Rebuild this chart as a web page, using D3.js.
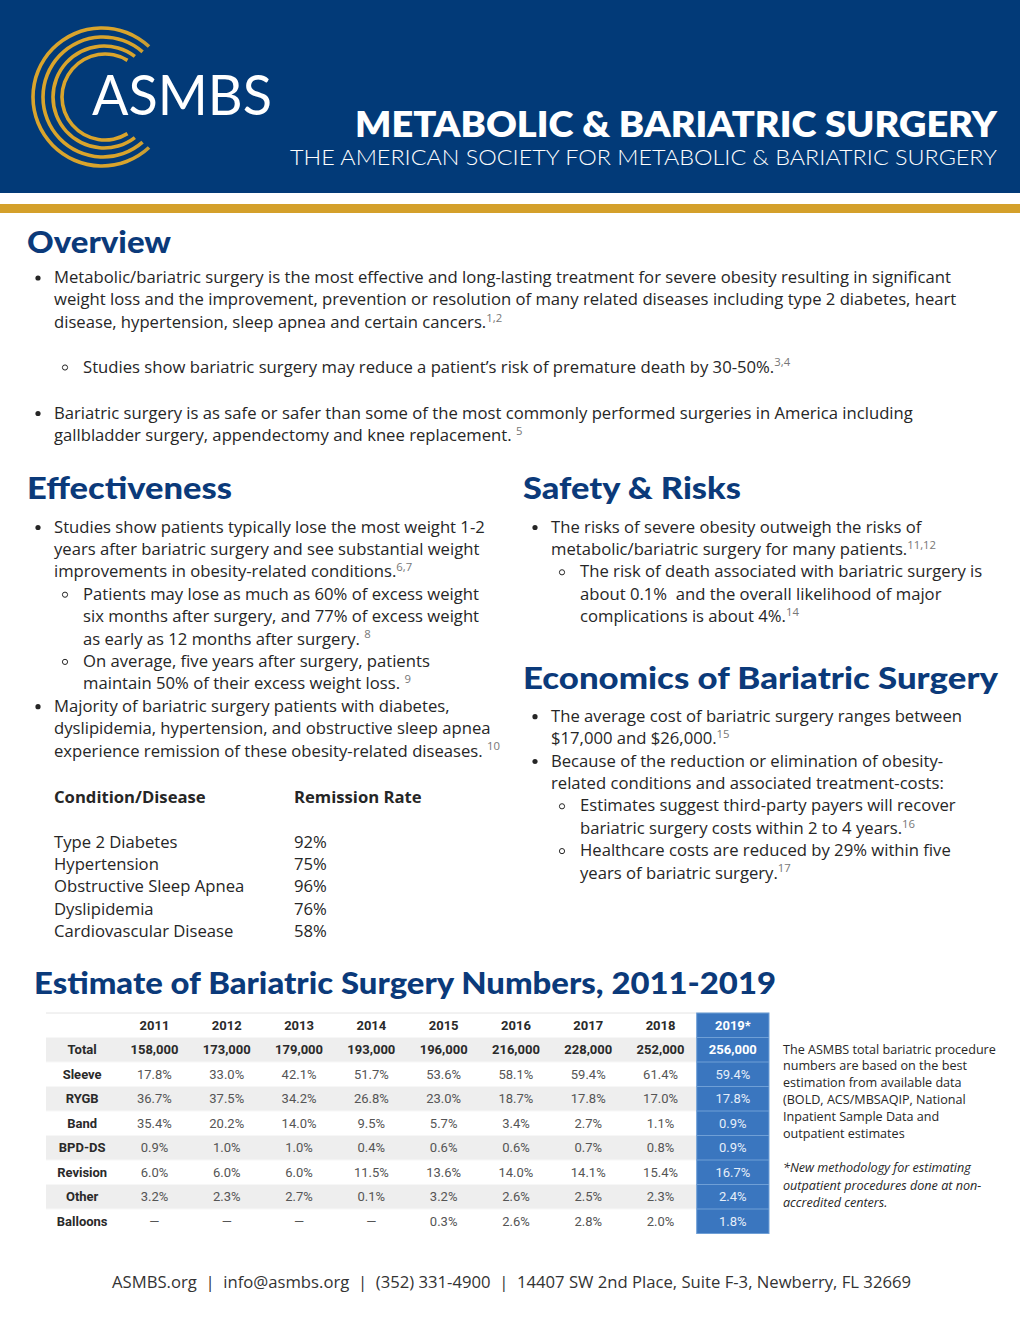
<!DOCTYPE html>
<html><head><meta charset="utf-8">
<script src="https://cdn.jsdelivr.net/npm/d3@7"></script>
<style>body{margin:0;background:#fff}svg{display:block}</style>
</head><body>
<svg id="c" width="1020" height="1319"></svg>
<script>
// ---------- DATA ----------
const years = ["2011","2012","2013","2014","2015","2016","2017","2018","2019*"];
const totals = [158000,173000,179000,193000,196000,216000,228000,252000,256000];
const procedures = ["Sleeve","RYGB","Band","BPD-DS","Revision","Other","Balloons"];
const sleeve   = [17.8,33.0,42.1,51.7,53.6,58.1,59.4,61.4,59.4];
const rygb     = [36.7,37.5,34.2,26.8,23.0,18.7,17.8,17.0,17.8];
const band     = [35.4,20.2,14.0,9.5,5.7,3.4,2.7,1.1,0.9];
const bpdds    = [0.9,1.0,1.0,0.4,0.6,0.6,0.7,0.8,0.9];
const revision = [6.0,6.0,6.0,11.5,13.6,14.0,14.1,15.4,16.7];
const other    = [3.2,2.3,2.7,0.1,3.2,2.6,2.5,2.3,2.4];
const balloons = [null,null,null,null,0.3,2.6,2.8,2.0,1.8];
const procValues = [sleeve,rygb,band,bpdds,revision,other,balloons];

const conditions = ["Type 2 Diabetes","Hypertension","Obstructive Sleep Apnea","Dyslipidemia","Cardiovascular Disease"];
const remission = [92,75,96,76,58];

const overviewText = [
 ["dot","Metabolic/bariatric surgery is the most effective and long-lasting treatment for severe obesity resulting in significant"],
 ["","weight loss and the improvement, prevention or resolution of many related diseases including type 2 diabetes, heart"],
 ["","disease, hypertension, sleep apnea and certain cancers.^1,2"],
 ["ring","Studies show bariatric surgery may reduce a patient’s risk of premature death by 30-50%.^3,4"],
 ["dot","Bariatric surgery is as safe or safer than some of the most commonly performed surgeries in America including"],
 ["","gallbladder surgery, appendectomy and knee replacement. ^5"]
];
const effectText = [
 ["dot","Studies show patients typically lose the most weight 1-2"],
 ["","years after bariatric surgery and see substantial weight"],
 ["","improvements in obesity-related conditions.^6,7"],
 ["ring","Patients may lose as much as 60% of excess weight"],
 ["r","six months after surgery, and 77% of excess weight"],
 ["r","as early as 12 months after surgery. ^8"],
 ["ring","On average, five years after surgery, patients"],
 ["r","maintain 50% of their excess weight loss. ^9"],
 ["dot","Majority of bariatric surgery patients with diabetes,"],
 ["","dyslipidemia, hypertension, and obstructive sleep apnea"],
 ["","experience remission of these obesity-related diseases. ^10"]
];
const safetyText = [
 ["dot","The risks of severe obesity outweigh the risks of"],
 ["","metabolic/bariatric surgery for many patients.^11,12"],
 ["ring","The risk of death associated with bariatric surgery is"],
 ["r","about 0.1%  and the overall likelihood of major"],
 ["r","complications is about 4%.^14"]
];
const econText = [
 ["dot","The average cost of bariatric surgery ranges between"],
 ["","$17,000 and $26,000.^15"],
 ["dot","Because of the reduction or elimination of obesity-"],
 ["","related conditions and associated treatment-costs:"],
 ["ring","Estimates suggest third-party payers will recover"],
 ["r","bariatric surgery costs within 2 to 4 years.^16"],
 ["ring","Healthcare costs are reduced by 29% within five"],
 ["r","years of bariatric surgery.^17"]
];
const noteText = ["The ASMBS total bariatric procedure","numbers are based on the best","estimation from available data","(BOLD, ACS/MBSAQIP, National","Inpatient Sample Data and","outpatient estimates"];
const noteItalic = ["*New methodology for estimating","outpatient procedures done at non-","accredited centers."];
const footerText = "ASMBS.org  |  info@asmbs.org  |  (352) 331-4900  |  14407 SW 2nd Place, Suite F-3, Newberry, FL 32669";

// ---------- DRAW ----------
const svg = d3.select("#c");
const NAVY = "#023a78", HEAD = "#0b3a7a", GOLD = "#d4a02a", TXT = "#262626";
const BODY = "'Open Sans', 'Noto Sans', sans-serif";
const HFONT = "Lato, 'Noto Sans', sans-serif";

// header
svg.append("rect").attr("x",0).attr("y",0).attr("width",1020).attr("height",193).attr("fill",NAVY);
svg.append("rect").attr("x",0).attr("y",204).attr("width",1020).attr("height",9).attr("fill",GOLD);

const defs = svg.append("defs");
const lg = defs.append("linearGradient").attr("id","lg").attr("gradientUnits","userSpaceOnUse")
  .attr("x1",30).attr("x2",148).attr("y1",0).attr("y2",0);
lg.append("stop").attr("offset",0).attr("stop-color","#d9a42c").attr("stop-opacity",1);
lg.append("stop").attr("offset",0.35).attr("stop-color","#c79f3a").attr("stop-opacity",0.85);
lg.append("stop").attr("offset",0.7).attr("stop-color","#9c9056").attr("stop-opacity",0.4);
lg.append("stop").attr("offset",1).attr("stop-color","#7d8060").attr("stop-opacity",0);
const logoArcs = [{cx:102,r:69,a:0.75},{cx:103,r:60,a:0.72},{cx:104,r:51,a:0.65},{cx:105,r:43,a:0.55}];
const arcGen = d3.arc();
logoArcs.forEach(d=>{
  svg.append("path").attr("transform",`translate(${d.cx},97)`)
    .attr("d",arcGen({innerRadius:d.r-1.8,outerRadius:d.r+1.8,startAngle:-Math.PI-d.a,endAngle:d.a}))
    .attr("fill","url(#lg)");
});
svg.append("text").attr("x",92).attr("y",115).attr("font-family",HFONT).attr("font-size",56)
  .attr("fill","#fff").attr("textLength",180).attr("lengthAdjust","spacingAndGlyphs").text("ASMBS");
svg.append("text").attr("x",355).attr("y",137).attr("font-family",HFONT).attr("font-weight",800).attr("font-size",36)
  .attr("fill","#fff").attr("textLength",642).attr("lengthAdjust","spacingAndGlyphs").text("METABOLIC & BARIATRIC SURGERY");
svg.append("text").attr("x",290).attr("y",165).attr("font-family",HFONT).attr("font-weight",300).attr("font-size",21)
  .attr("fill","#fff").attr("textLength",707).attr("lengthAdjust","spacingAndGlyphs").text("THE AMERICAN SOCIETY FOR METABOLIC & BARIATRIC SURGERY");

// headings
function heading(t,x,y,w){
  svg.append("text").attr("x",x).attr("y",y).attr("font-family",HFONT).attr("font-weight",900)
    .attr("font-size",30).attr("fill",HEAD).attr("textLength",w).attr("lengthAdjust","spacingAndGlyphs").text(t);
}
heading("Overview",27,253,144);
heading("Effectiveness",27,499,205);
heading("Safety & Risks",523,499,218);
heading("Economics of Bariatric Surgery",523,689,475);
heading("Estimate of Bariatric Surgery Numbers, 2011-2019",34,994,742);

// body font size fitted from first overview line
const probe = svg.append("text").attr("font-family",BODY).attr("font-size",16).text(overviewText[0][1]);
const pw = probe.node().getComputedTextLength();
probe.remove();
const FS = pw>0 ? 16*898/pw : 15;

function addLine(str,x,y,fs,opts={}){
  const parts = str.split("^");
  const t = svg.append("text").attr("x",x).attr("y",y).attr("font-family",BODY).attr("font-size",fs)
    .attr("fill",TXT).attr("font-weight",opts.bold?700:400).attr("font-style",opts.italic?"italic":"normal")
    .style("white-space","pre");
  t.append("tspan").text(parts[0]);
  if(parts[1]) t.append("tspan").attr("dy",-fs*0.36).attr("font-size",fs*0.68).attr("fill","#777").text(parts[1]);
  return t;
}
function block(lines,x0,y0,step){
  lines.forEach((l,i)=>{
    const y = y0 + i*step;
    const kind = l[0];
    const sub = (kind==="ring"||kind==="r");
    const tx = sub ? x0+45 : x0+16;
    if(kind==="dot") svg.append("circle").attr("cx",x0).attr("cy",y-5).attr("r",2.6).attr("fill",TXT);
    if(kind==="ring") svg.append("circle").attr("cx",x0+27).attr("cy",y-5).attr("r",2.6).attr("fill","none").attr("stroke",TXT).attr("stroke-width",1);
    addLine(l[1],tx,y,FS);
  });
}
const ovY = [283,305.4,327.8,372.5,418.5,440.9];
overviewText.forEach((l,i)=>block([l],38,ovY[i],0));
block(effectText,38,532.5,22.4);
block(safetyText,535,532.5,22.4);
block(econText,535,721.7,22.4);

// condition table
addLine("Condition/Disease",54,802.5,FS,{bold:true});
addLine("Remission Rate",294,802.5,FS,{bold:true});
conditions.forEach((c,i)=>{
  addLine(c,54,847.5+i*22.4,FS);
  addLine(remission[i]+"%",294,847.5+i*22.4,FS);
});

// ---------- surgery numbers table ----------
const TF = "Roboto, 'Liberation Sans', sans-serif";
const cols = ["label"].concat(years);
const xs = d3.scaleBand().domain(cols).range([46,769]);
const rows = ["head","Total"].concat(procedures);
const ys = d3.scaleBand().domain(rows).range([1013,1233.5]);
const tbl = svg.append("g");
rows.forEach((r,i)=>{
  tbl.append("rect").attr("x",46).attr("y",ys(r)).attr("width",723).attr("height",ys.bandwidth())
    .attr("fill", i%2===1 ? "#eeeeee" : "#ffffff");
  if(i>0) tbl.append("line").attr("x1",46).attr("x2",769).attr("y1",ys(r)).attr("y2",ys(r)).attr("stroke","#f7f7f7").attr("stroke-width",1.2);
});
tbl.append("line").attr("x1",46).attr("x2",769).attr("y1",1013).attr("y2",1013).attr("stroke","#e4e4e4");
const hx = xs("2019*");
tbl.append("rect").attr("x",hx).attr("y",1013).attr("width",xs.bandwidth()).attr("height",220.5)
  .attr("fill","#3a76bf").attr("stroke","#6f9fd6").attr("stroke-width",1);
rows.slice(1).forEach(r=>{
  tbl.append("line").attr("x1",hx).attr("x2",hx+xs.bandwidth()).attr("y1",ys(r)).attr("y2",ys(r))
    .attr("stroke","#6f9fd6").attr("stroke-width",1);
});
function cell(txt,col,row,bold,hi){
  tbl.append("text").attr("x",xs(col)+xs.bandwidth()/2).attr("y",ys(row)+ys.bandwidth()/2+4.7)
    .attr("text-anchor","middle").attr("font-family",TF).attr("font-size",13)
    .attr("font-weight",bold?700:400)
    .attr("fill", hi ? (bold?"#ffffff":"#e6eef9") : (bold?"#2a2a2a":"#555555"))
    .text(txt);
}
years.forEach((y,j)=>cell(y,y,"head",true,y==="2019*"));
cell("Total","label","Total",true,false);
const fmt = d3.format(",");
totals.forEach((v,j)=>cell(fmt(v),years[j],"Total",true,years[j]==="2019*"));
procedures.forEach((p,i)=>{
  cell(p,"label",p,true,false);
  procValues[i].forEach((v,j)=>cell(v==null?"—":v.toFixed(1)+"%",years[j],p,false,years[j]==="2019*"));
});

// note text
const probe2 = svg.append("text").attr("font-family",BODY).attr("font-size",13).text(noteText[0]);
const pw2 = probe2.node().getComputedTextLength(); probe2.remove();
const NF = pw2>0 ? 13*213/pw2 : 12.5;
noteText.forEach((t,i)=>addLine(t,783,1053.5+i*16.8,NF));
noteItalic.forEach((t,i)=>addLine(t,783,1172+i*17.5,NF,{italic:true}));

// footer
svg.append("text").attr("x",112).attr("y",1288).attr("font-family",BODY).attr("font-size",16)
  .attr("fill","#333").attr("textLength",799).attr("lengthAdjust","spacingAndGlyphs")
  .style("white-space","pre").text(footerText);
</script>
</body></html>
